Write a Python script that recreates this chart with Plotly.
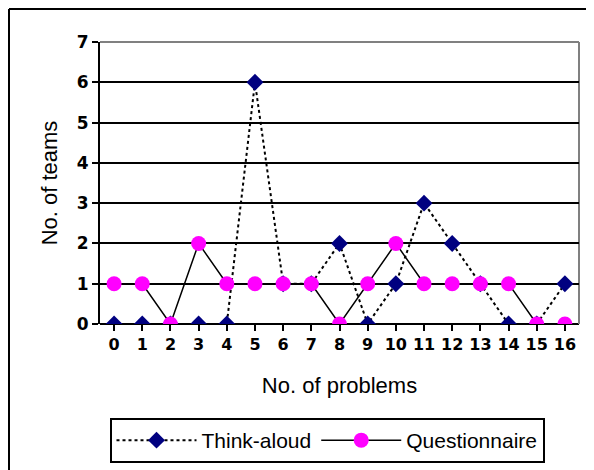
import plotly.graph_objects as go

problems = list(range(17))
think_aloud = [0, 0, 0, 0, 0, 6, 1, 1, 2, 0, 1, 3, 2, 1, 0, 0, 1]
questionnaire = [1, 1, 0, 2, 1, 1, 1, 1, 0, 1, 2, 1, 1, 1, 1, 0, 0]
y_ticks = list(range(8))

# page has an 8px body margin, so figure coords = page coords - 8
OFF = 8
W, H = 594 - OFF, 470 - OFF
L, T = 100 - OFF, 42 - OFF
R = W - (579 - OFF)
B = H - (324 - OFF)
pw, ph = W - L - R, H - T - B

fig = go.Figure()
fig.add_trace(go.Scatter(
    x=problems, y=think_aloud, name="Think-aloud", mode="lines+markers",
    line=dict(color="black", width=2, dash="dot"),
    marker=dict(symbol="diamond", size=13, color="#000080"),
))
fig.add_trace(go.Scatter(
    x=problems, y=questionnaire, name="Questionnaire", mode="lines+markers",
    line=dict(color="black", width=1.5),
    marker=dict(symbol="circle", size=15, color="#FF00FF"),
))

def px_x(p):
    return (p - OFF - L) / pw

def px_y(p):
    return (H - B - (p - OFF)) / ph

fig.update_layout(
    width=W, height=H,
    margin=dict(l=L, r=R, t=T, b=B, autoexpand=False),
    paper_bgcolor="white", plot_bgcolor="white",
    font=dict(family="Liberation Sans, Arial", color="black"),
    showlegend=True,
    legend=dict(
        orientation="h", x=px_x(327), xanchor="center", y=px_y(418), yanchor="top",
        bordercolor="black", borderwidth=2, font=dict(size=21, family="Liberation Sans, Arial"),
        itemwidth=80, tracegroupgap=0,
    ),
    xaxis=dict(
        range=[-0.5, 16.5], tickmode="array", tickvals=problems,
        ticktext=[str(p) for p in problems], tickson="boundaries",
        ticks="outside", ticklen=6, tickwidth=2, tickcolor="black",
        showgrid=False, zeroline=False, showline=False, automargin=False,
        tickfont=dict(family="DejaVu Sans", size=16, color="black", weight="bold"),
        title=dict(text="No. of problems", font=dict(size=22), standoff=24),
        fixedrange=True,
    ),
    yaxis=dict(
        range=[0, 7], tickmode="array", tickvals=y_ticks,
        ticks="outside", ticklen=6, tickwidth=2, tickcolor="black",
        showgrid=True, gridcolor="black", gridwidth=2, automargin=False,
        zeroline=False, showline=True, linecolor="black", linewidth=2,
        tickfont=dict(family="DejaVu Sans", size=17, color="black", weight="bold"),
        title=dict(text="No. of teams", font=dict(size=22), standoff=13),
        fixedrange=True,
    ),
    shapes=[
        dict(type="line", xref="paper", yref="paper", x0=0, x1=1, y0=0, y1=0,
             line=dict(color="black", width=2), layer="below"),
        dict(type="line", xref="paper", yref="paper", x0=0, x1=1, y0=1, y1=1,
             line=dict(color="#808080", width=2), layer="below"),
        dict(type="line", xref="paper", yref="paper", x0=1, x1=1, y0=0, y1=1,
             line=dict(color="#808080", width=2), layer="below"),
        dict(type="line", xref="paper", yref="paper",
             x0=px_x(OFF + 1), x1=px_x(OFF + 1), y0=px_y(480), y1=px_y(OFF + 1),
             line=dict(color="black", width=2)),
        dict(type="line", xref="paper", yref="paper",
             x0=px_x(OFF + 1), x1=px_x(600), y0=px_y(OFF + 1), y1=px_y(OFF + 1),
             line=dict(color="black", width=2)),
    ],
)

fig.write_html("out.html")
